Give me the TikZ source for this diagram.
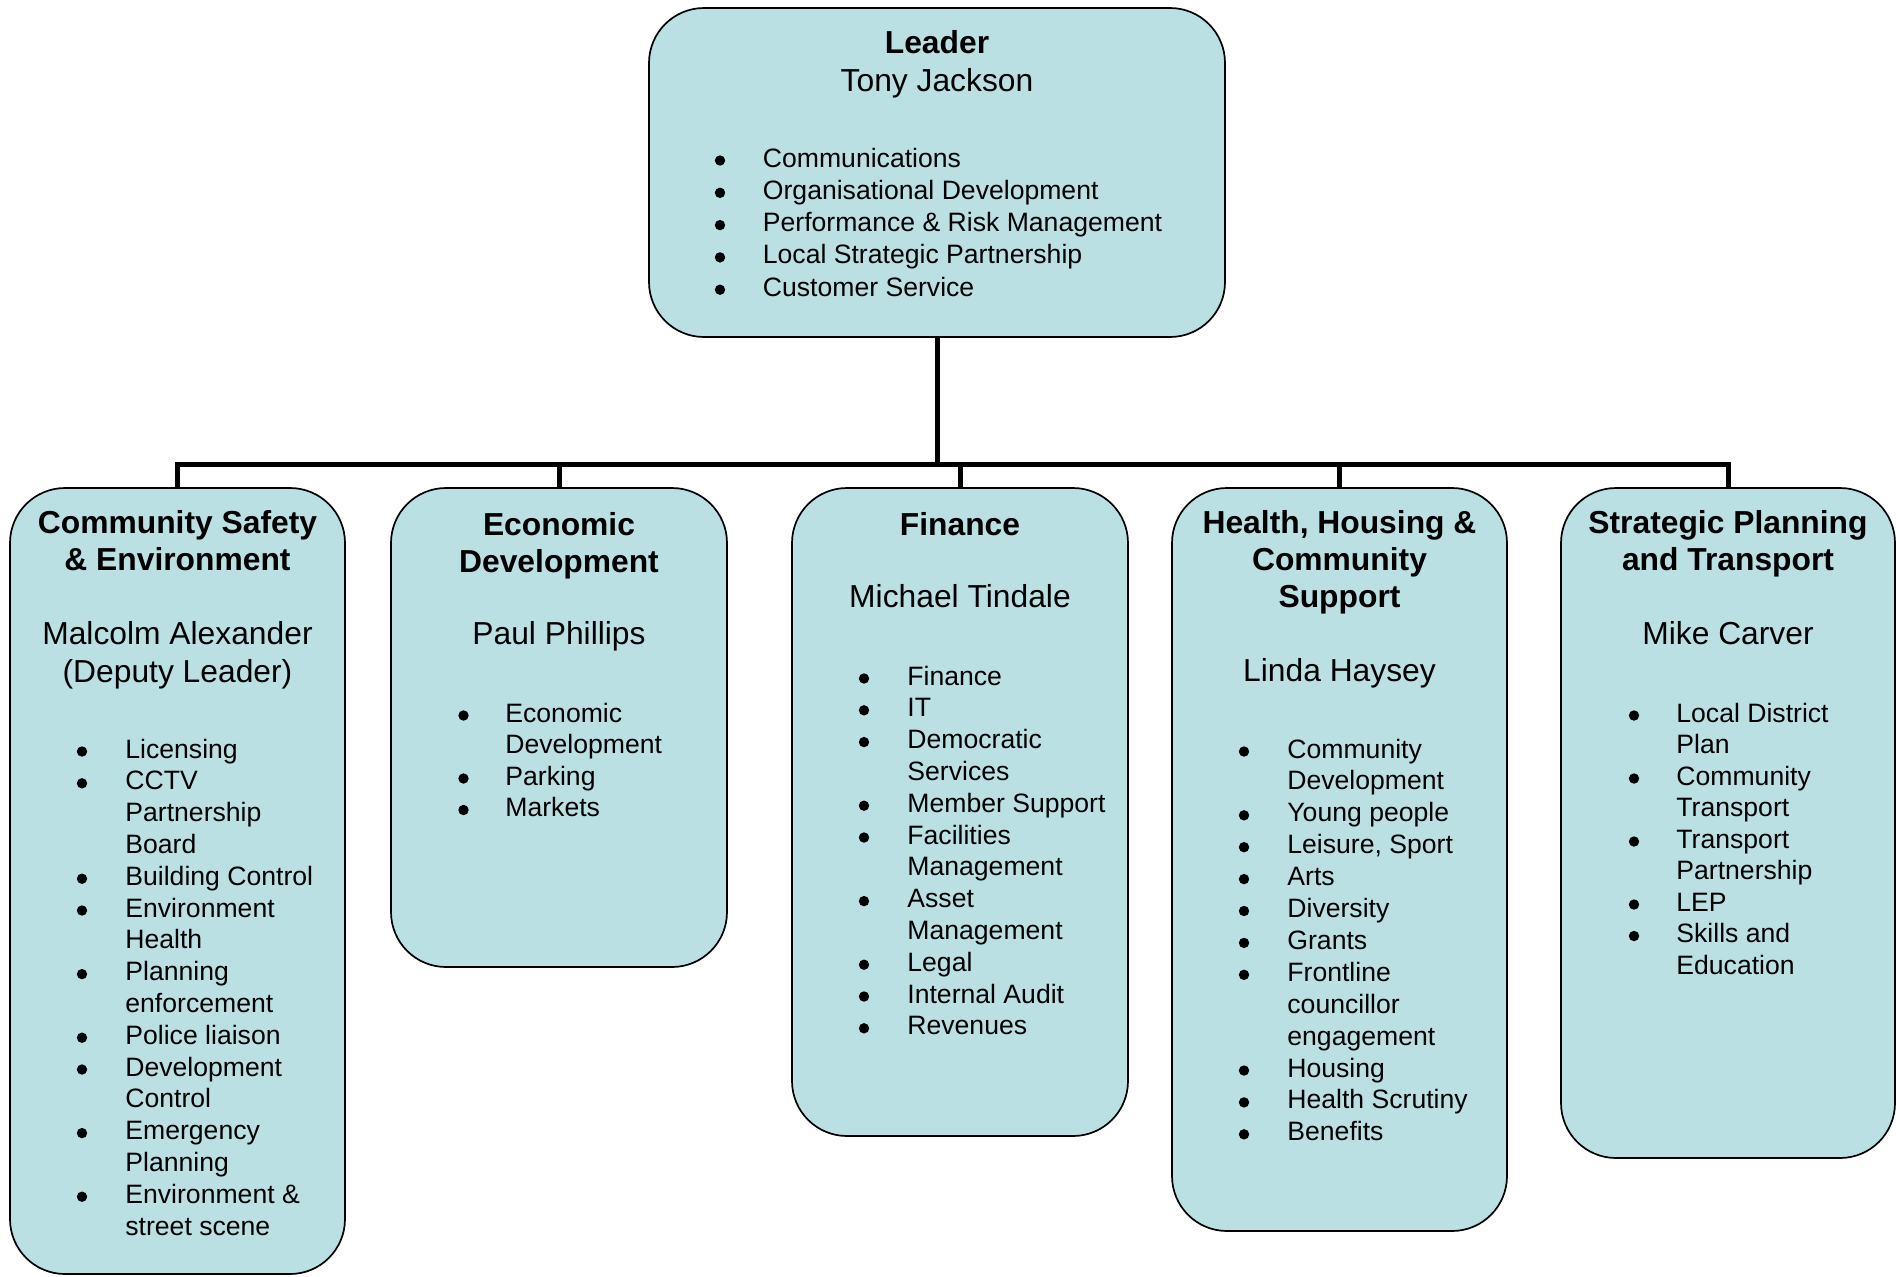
\documentclass[tikz,border=0pt]{standalone}
\usepackage{fontspec}
\setmainfont{Liberation Sans}
\usetikzlibrary{fit}
\definecolor{boxblue}{RGB}{187,224,227}
\tikzset{font=\fontsize{13.3}{16}\selectfont}
\tikzset{panel/.style={draw, line width=.85pt, fill=boxblue,
    rounded corners=27.5pt, inner sep=0pt}}
\tikzset{link/.style={line width=2.5pt}}
\tikzset{head/.style={anchor=base, inner sep=0pt,
    font=\fontsize{15.9}{18.75}\selectfont\bfseries}}
\tikzset{who/.style={anchor=base, inner sep=0pt,
    font=\fontsize{15.9}{18.75}\selectfont}}
\tikzset{item/.style={anchor=base west, inner sep=0pt}}
\tikzset{dot/.style={circle, fill, inner sep=0pt, minimum size=5.2pt}}

\begin{document}
\begin{tikzpicture}[x=.5pt, y=-.5pt]
  \useasboundingbox (0,0) rectangle (1896,1276);
  % boxes
  \node[panel, fit={(649,8) (1225,337)}] (leader) {};
  \node[panel, fit={(10,488) (345,1274)}] (cse) {};
  \node[panel, fit={(391,488) (727,967)}] (ed) {};
  \node[panel, fit={(792,488) (1128,1136)}] (fin) {};
  \node[panel, fit={(1172,488) (1507,1231)}] (hhcs) {};
  \node[panel, fit={(1561,488) (1895,1158)}] (spt) {};
  % connectors
  \coordinate (bar) at (937,464);
  \draw[link] (leader.south) -- (leader.south |- bar);
  \draw[link] (cse.north) |- (spt.north |- bar) -- (spt.north);
  \foreach \b in {ed,fin,hhcs}
    \draw[link] (\b.north |- bar) -- (\b.north);

  % leader
  \node[head] (leader-t) at (937,53) {Leader};
  \node[who] (leader-n) at (937,91) {Tony Jackson};
  \foreach \t [count=\i from 0] in {Communications, Organisational Development,
      Performance \& Risk Management, Local Strategic Partnership, Customer Service}{
    \node[dot] (leader-b\i) at (720,{167+32.3*\i-6.5}) {};
    \node[item] (leader-\i) at (762.5,{167+32.3*\i}) {\t};
  }

  % community safety
  \foreach \t [count=\i from 0] in {Community Safety, \& Environment}
    \node[head] (cse-t\i) at (177.5,{533+37*\i}) {\t};
  \foreach \t [count=\i from 0] in {Malcolm Alexander, {(Deputy Leader)}}
    \node[who] (cse-n\i) at (177.5,{644+38*\i}) {\t};
  \foreach \t [count=\i from 0] in {Licensing, CCTV, Partnership, Board,
      Building Control, Environment, Health, Planning, enforcement,
      Police liaison, Development, Control, Emergency, Planning,
      Environment \&, street scene}
    \node[item] (cse-\i) at (125,{758+31.8*\i}) {\t};
  \foreach \i in {0,1,4,5,7,9,10,12,14}
    \node[dot] (cse-b\i) at (82,{758+31.8*\i-6.5}) {};

  % economic development
  \foreach \t [count=\i from 0] in {Economic, Development}
    \node[head] (ed-t\i) at (559,{535+37*\i}) {\t};
  \node[who] (ed-n) at (559,644) {Paul Phillips};
  \foreach \t [count=\i from 0] in {Economic, Development, Parking, Markets}
    \node[item] (ed-\i) at (505,{722+31.5*\i}) {\t};
  \foreach \i in {0,2,3}
    \node[dot] (ed-b\i) at (463.5,{722+31.5*\i-6.5}) {};

  % finance
  \node[head] (fin-t) at (960,535) {Finance};
  \node[who] (fin-n) at (960,607) {Michael Tindale};
  \foreach \t [count=\i from 0] in {Finance, IT, Democratic, Services,
      Member Support, Facilities, Management, Asset, Management, Legal,
      Internal Audit, Revenues}
    \node[item] (fin-\i) at (907,{685+31.8*\i}) {\t};
  \foreach \i in {0,1,2,4,5,7,9,10,11}
    \node[dot] (fin-b\i) at (864,{685+31.8*\i-6.5}) {};

  % health, housing
  \foreach \t [count=\i from 0] in {{Health, Housing \&}, Community, Support}
    \node[head] (hhcs-t\i) at (1339.5,{533+37*\i}) {\t};
  \node[who] (hhcs-n) at (1339.5,681) {Linda Haysey};
  \foreach \t [count=\i from 0] in {Community, Development, Young people,
      {Leisure, Sport}, Arts, Diversity, Grants, Frontline, councillor,
      engagement, Housing, Health Scrutiny, Benefits}
    \node[item] (hhcs-\i) at (1287,{758+31.9*\i}) {\t};
  \foreach \i in {0,2,3,4,5,6,7,10,11,12}
    \node[dot] (hhcs-b\i) at (1244,{758+31.9*\i-6.5}) {};

  % strategic planning
  \foreach \t [count=\i from 0] in {Strategic Planning, and Transport}
    \node[head] (spt-t\i) at (1728,{533+37*\i}) {\t};
  \node[who] (spt-n) at (1728,644) {Mike Carver};
  \foreach \t [count=\i from 0] in {Local District, Plan, Community, Transport,
      Transport, Partnership, LEP, Skills and, Education}
    \node[item] (spt-\i) at (1676,{722+31.5*\i}) {\t};
  \foreach \i in {0,2,4,6,7}
    \node[dot] (spt-b\i) at (1634,{722+31.5*\i-6.5}) {};
\end{tikzpicture}
\end{document}
